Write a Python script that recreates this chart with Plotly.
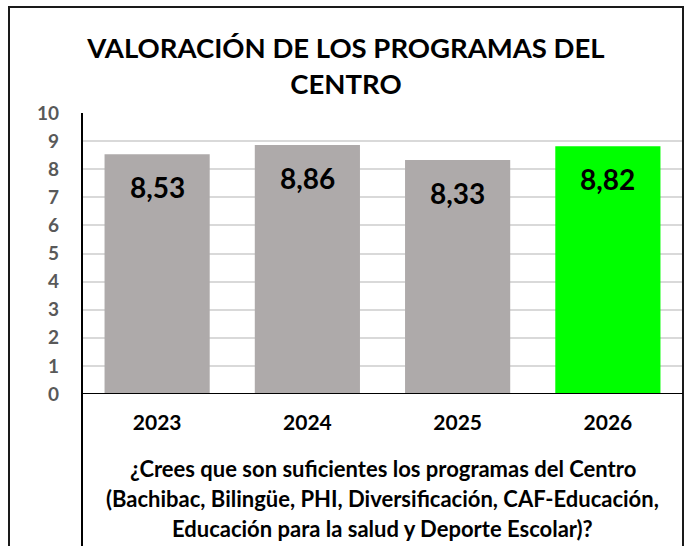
import plotly.graph_objects as go

categories = ["2023", "2024", "2025", "2026"]
values = [8.53, 8.86, 8.33, 8.82]
bar_colors = ["#AEAAAA", "#AEAAAA", "#AEAAAA", "#00FF00"]
y_ticks = list(range(0, 11))
title_text = "VALORACIÓN DE LOS PROGRAMAS DEL<br>CENTRO"
axis_title_lines = [
    "¿Crees que son suficientes los programas del Centro",
    "(Bachibac, Bilingüe, PHI, Diversificación, CAF-Educación,",
    "Educación para la salud y Deporte Escolar)?",
]

FONT = "Lato, Carlito, Calibri, sans-serif"

W, H = 689, 546
L, R, T, B = 82, 6, 113, 152
pw = W - L - R
ph = H - T - B

def px_x(px):
    return (px - L) / pw

def px_y(py):
    return (H - B - py) / ph

fig = go.Figure()
fig.add_trace(go.Bar(
    x=categories, y=values,
    marker=dict(color=bar_colors, line=dict(width=0)),
    width=0.7,
    hoverinfo="skip",
))

annotations = []
for i, (c, v) in enumerate(zip(categories, values)):
    annotations.append(dict(
        x=i, y=v, xref="x", yref="y",
        text="<b>" + f"{v:.2f}".replace(".", ",") + "</b>",
        showarrow=False, yanchor="middle", yshift=-33,
        font=dict(family=FONT, size=28, color="black"),
    ))
for line, py in zip(axis_title_lines, [468, 498, 528]):
    annotations.append(dict(
        x=0.5, y=px_y(py), xref="paper", yref="paper",
        text="<b>" + line + "</b>", showarrow=False,
        xanchor="center", yanchor="middle", align="center",
        font=dict(family=FONT, size=22, color="black"),
    ))

shapes = [
    dict(type="rect", xref="paper", yref="paper",
         x0=px_x(9), x1=px_x(683), y0=px_y(560), y1=px_y(7),
         line=dict(color="#1a1a1a", width=2), layer="above"),
    dict(type="line", xref="paper", yref="paper",
         x0=px_x(82), x1=px_x(82), y0=px_y(560), y1=px_y(113),
         line=dict(color="black", width=2), layer="above"),
    dict(type="line", xref="paper", yref="y",
         x0=0, x1=1, y0=0, y1=0,
         line=dict(color="black", width=2), layer="above"),
]

fig.update_layout(
    width=W, height=H,
    margin=dict(l=L, r=R, t=T, b=B, autoexpand=False),
    paper_bgcolor="white", plot_bgcolor="white",
    showlegend=False,
    bargap=0.3,
    title=dict(text="<b>" + title_text + "</b>",
               x=346 / W, xanchor="center",
               y=1 - 58 / H, yanchor="middle",
               xref="container", yref="container",
               font=dict(family=FONT, size=27.5, color="black")),
    xaxis=dict(
        type="category", categoryorder="array", categoryarray=categories,
        range=[-0.5, len(categories) - 0.5],
        showgrid=False, showline=False, ticks="", zeroline=False,
        tickfont=dict(family=FONT, size=21, color="black", weight="bold"),
        ticklabelstandoff=14, automargin=False,
    ),
    yaxis=dict(
        range=[0, 10], tickvals=y_ticks, ticktext=[str(t) for t in y_ticks],
        showgrid=True, gridcolor="#D9D9D9", gridwidth=1.5,
        showline=False, zeroline=False, ticks="",
        tickfont=dict(family=FONT, size=19, color="#595959", weight="bold"),
        ticklabelstandoff=22, automargin=False,
    ),
    annotations=annotations,
    shapes=shapes,
)

fig.write_html("out.html",
               config={"displayModeBar": False},
               post_script="document.body.style.margin='0px';document.body.style.overflow='hidden';")
